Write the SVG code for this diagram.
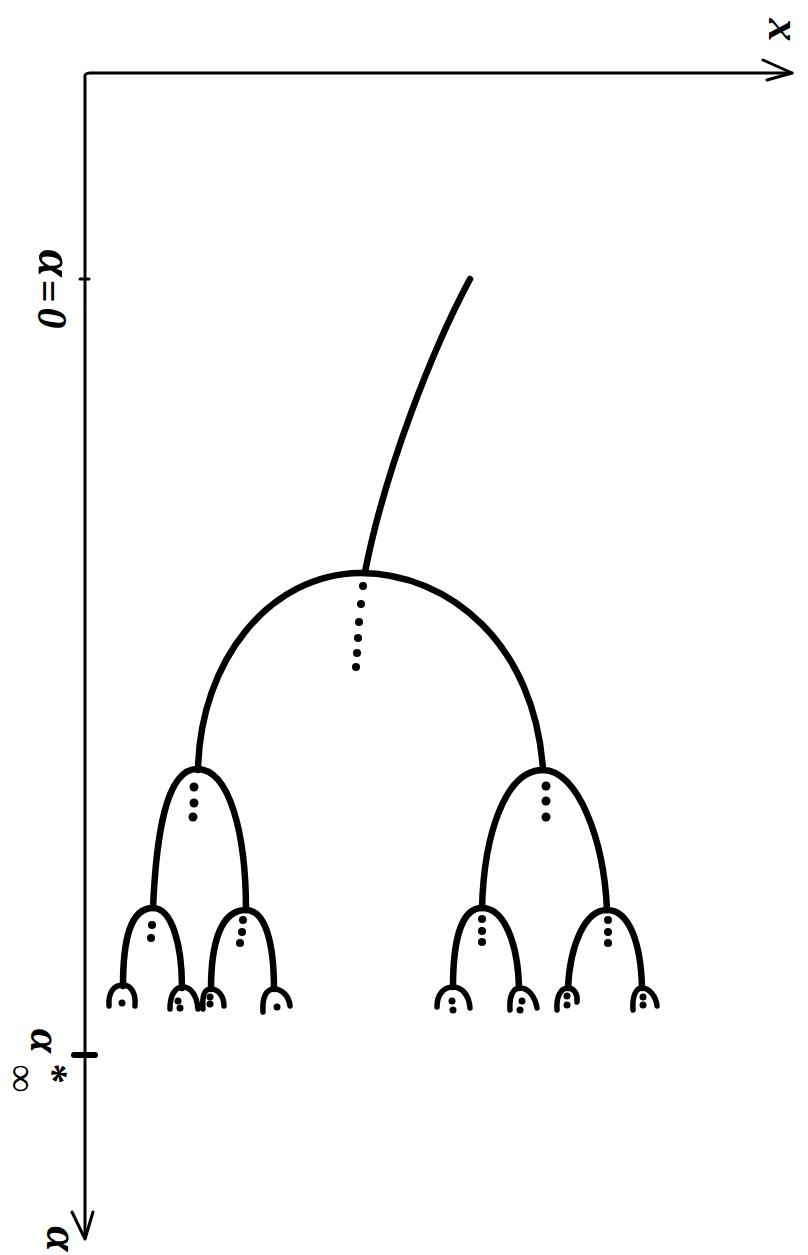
<svg xmlns="http://www.w3.org/2000/svg" width="808" height="1255" viewBox="0 0 808 1255">
  <style>
    .axis { fill: none; stroke: #000; stroke-width: 3; stroke-linecap: round; stroke-linejoin: round; }
    .branch { fill: none; stroke: #000; stroke-width: 6.5; stroke-linecap: round; stroke-linejoin: round; }
    .twig { fill: none; stroke: #000; stroke-width: 5.5; stroke-linecap: round; stroke-linejoin: round; }
    .dot { fill: #000; }
    .lbl { font-family: "Liberation Serif", "DejaVu Serif", serif; font-style: italic; font-weight: bold; fill: #000; text-anchor: middle; dominant-baseline: central; }
  </style>
  <rect width="808" height="1255" fill="#fff"/>

  <!-- axes -->
  <g id="axes">
    <path class="axis" d="M85,1238 L85,78 Q84,73 90,73 L792,73"/>
    <path class="axis" d="M763,60 L792,73 L767,80"/>
    <path class="axis" d="M72,1212 L85,1239 L93,1212"/>
    <path class="axis" d="M80,279 L89,279"/>
    <path d="M74,1055 L95,1055" stroke="#000" stroke-width="6" stroke-linecap="round"/>
  </g>

  <!-- axis labels (rotated page) -->
  <g id="labels">
    <text class="lbl" font-size="46" transform="translate(784,30) rotate(90)">x</text>
    <text class="lbl" font-size="50" transform="translate(56,263) rotate(90)">α</text>
    <text class="lbl" font-size="40" transform="translate(48,291) rotate(90)">=</text>
    <text class="lbl" font-size="42" transform="translate(52,318) rotate(90)">0</text>
    <text class="lbl" font-size="44" transform="translate(45,1041) rotate(90)">α</text>
    <text class="lbl" font-size="40" transform="translate(53,1072) rotate(90)">*</text>
    <text class="lbl" font-size="40" transform="translate(22,1078) rotate(90)">∞</text>
    <text class="lbl" font-size="46" transform="translate(62,1239) rotate(90)">α</text>
  </g>

  <!-- branching curves -->
  <g id="connectors">
    <!-- trunk -->
    <path class="branch" d="M470,279 C432,350 385,470 365,572"/>
    <!-- first split -->
    <path class="branch" d="M198,770 C200,660 270,574 360,573 C450,573 535,645 543,770"/>
    <!-- second level -->
    <path class="branch" d="M153,908 C156,840 165,769 197,769 C230,769 246,835 246,910"/>
    <path class="branch" d="M482,908 C484,835 505,770 543,770 C578,770 604,840 607,910"/>
    <!-- third level -->
    <path class="branch" d="M123,986 C123,940 130,908 153,908 C172,908 182,945 182,988"/>
    <path class="branch" d="M211,989 C211,945 220,910 246,910 C266,910 274,945 274,989"/>
    <path class="branch" d="M453,987 C453,945 460,908 482,908 C505,908 518,945 519,988"/>
    <path class="branch" d="M568,988 C570,945 585,910 607,910 C630,910 641,945 642,988"/>
    <!-- leaves -->
    <path class="twig" d="M109,1006 C108,992 114,985 123,985 C131,985 136,993 135,1006"/>
    <path class="twig" d="M170,1009 C170,995 175,987 183,987 C191,987 197,996 198,1009"/>
    <path class="twig" d="M203,1009 C202,996 204,989 211,989 C218,989 224,996 224,1006"/>
    <path class="twig" d="M263,1012 C262,998 266,989 274,989 C282,989 289,996 290,1006"/>
    <path class="twig" d="M437,1007 C437,994 444,987 453,987 C462,987 469,995 470,1008"/>
    <path class="twig" d="M510,1010 C509,996 513,988 520,988 C528,988 535,996 537,1008"/>
    <path class="twig" d="M557,1010 C556,996 561,988 568,988 C574,988 578,994 577,1002"/>
    <path class="twig" d="M633,1010 C632,996 636,988 642,988 C649,988 656,996 657,1006"/>
  </g>

  <!-- dotted continuations -->
  <g id="dots" class="dot">
    <circle cx="363" cy="586" r="4"/>
    <circle cx="361" cy="604" r="4"/>
    <circle cx="359" cy="622" r="4"/>
    <circle cx="358" cy="638" r="4"/>
    <circle cx="357" cy="653" r="4"/>
    <circle cx="356" cy="667" r="4"/>

    <circle cx="194" cy="787" r="4.5"/>
    <circle cx="194" cy="803" r="4.5"/>
    <circle cx="193" cy="817" r="4.5"/>

    <circle cx="546" cy="786" r="4.5"/>
    <circle cx="546" cy="801" r="4.5"/>
    <circle cx="546" cy="817" r="4.5"/>

    <circle cx="152" cy="925" r="4"/>
    <circle cx="151" cy="938" r="4"/>

    <circle cx="243" cy="920" r="4"/>
    <circle cx="242" cy="932" r="4"/>
    <circle cx="240" cy="943" r="4"/>

    <circle cx="482" cy="919" r="4"/>
    <circle cx="482" cy="931" r="4"/>
    <circle cx="482" cy="942" r="4"/>

    <circle cx="608" cy="920" r="4"/>
    <circle cx="608" cy="932" r="4"/>
    <circle cx="608" cy="943" r="4"/>

    <circle cx="122" cy="1003" r="3.5"/>
    <circle cx="178" cy="1001" r="3.5"/>
    <circle cx="180" cy="1008" r="3.5"/>
    <circle cx="210" cy="997" r="3.5"/>
    <circle cx="210" cy="1004" r="3.5"/>
    <circle cx="277" cy="1007" r="3.5"/>
    <circle cx="452" cy="1001" r="3.5"/>
    <circle cx="453" cy="1010" r="3.5"/>
    <circle cx="522" cy="1001" r="3.5"/>
    <circle cx="520" cy="1010" r="3.5"/>
    <circle cx="567" cy="996" r="3.5"/>
    <circle cx="567" cy="1005" r="3.5"/>
    <circle cx="643" cy="997" r="3.5"/>
    <circle cx="643" cy="1005" r="3.5"/>
  </g>
</svg>
